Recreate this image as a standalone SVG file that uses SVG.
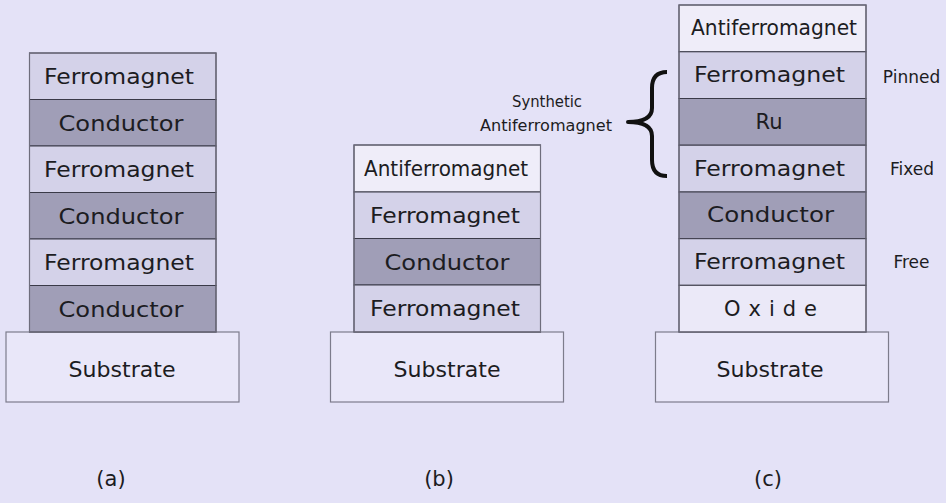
<svg xmlns="http://www.w3.org/2000/svg" width="946" height="503" viewBox="0 0 946 503">
  <style>
    .bg { fill: #e4e2f7; }
    .fm { fill: #d4d2e9; stroke: #3a3a48; stroke-width: 1; }
    .cd { fill: #a09eb7; stroke: #3a3a48; stroke-width: 1; }
    .af { fill: #efedf9; stroke: #3a3a48; stroke-width: 1; }
    .ox { fill: #ebe9f8; stroke: #3a3a48; stroke-width: 1; }
    .sub { fill: #e9e7f9; stroke: #7d7c8c; stroke-width: 1.2; }
    .edge { fill: none; stroke: #6e6d7c; stroke-width: 1.2; }
    text { font-family: "DejaVu Sans", "Liberation Sans", sans-serif; fill: #1c1c22; }
    .lbl { font-size: 21px; text-anchor: middle; }
    .side { font-size: 17px; text-anchor: middle; }
    .cap { font-size: 21px; text-anchor: middle; }
    .brace { fill: none; stroke: #111; stroke-width: 4; stroke-linecap: butt; stroke-linejoin: round; }
  </style>

  <rect class="bg" x="0" y="0" width="946" height="503"/>

  <!-- (a) multilayer stack -->
  <g id="stack-a">
    <rect class="sub" x="6" y="332" width="233" height="70"/>
    <text class="lbl" x="122" y="377" textLength="107" lengthAdjust="spacingAndGlyphs">Substrate</text>
    <rect class="fm" x="29.5" y="53" width="186.5" height="46.5"/>
    <rect class="cd" x="29.5" y="99.5" width="186.5" height="46.5"/>
    <rect class="fm" x="29.5" y="146" width="186.5" height="46.5"/>
    <rect class="cd" x="29.5" y="192.5" width="186.5" height="46.5"/>
    <rect class="fm" x="29.5" y="239" width="186.5" height="46.5"/>
    <rect class="cd" x="29.5" y="285.5" width="186.5" height="46.5"/>
    <rect class="edge" x="29.5" y="53" width="186.5" height="279"/>
    <text class="lbl" x="119" y="84" textLength="150" lengthAdjust="spacingAndGlyphs">Ferromagnet</text>
    <text class="lbl" x="121" y="131" textLength="125" lengthAdjust="spacingAndGlyphs">Conductor</text>
    <text class="lbl" x="119" y="177" textLength="150" lengthAdjust="spacingAndGlyphs">Ferromagnet</text>
    <text class="lbl" x="121" y="224" textLength="125" lengthAdjust="spacingAndGlyphs">Conductor</text>
    <text class="lbl" x="119" y="270" textLength="150" lengthAdjust="spacingAndGlyphs">Ferromagnet</text>
    <text class="lbl" x="121" y="317" textLength="125" lengthAdjust="spacingAndGlyphs">Conductor</text>
  </g>

  <!-- (b) spin valve stack -->
  <g id="stack-b">
    <rect class="sub" x="330.5" y="332" width="233" height="70"/>
    <text class="lbl" x="447" y="377" textLength="107" lengthAdjust="spacingAndGlyphs">Substrate</text>
    <rect class="af" x="354" y="145" width="186.5" height="47"/>
    <rect class="fm" x="354" y="192" width="186.5" height="46.5"/>
    <rect class="cd" x="354" y="238.5" width="186.5" height="46.5"/>
    <rect class="fm" x="354" y="285" width="186.5" height="47"/>
    <rect class="edge" x="354" y="145" width="186.5" height="187"/>
    <text class="lbl" x="446" y="176" textLength="164" lengthAdjust="spacingAndGlyphs">Antiferromagnet</text>
    <text class="lbl" x="445" y="223" textLength="150" lengthAdjust="spacingAndGlyphs">Ferromagnet</text>
    <text class="lbl" x="447" y="270" textLength="125" lengthAdjust="spacingAndGlyphs">Conductor</text>
    <text class="lbl" x="445" y="316" textLength="150" lengthAdjust="spacingAndGlyphs">Ferromagnet</text>
  </g>

  <!-- (c) tunnel junction stack with synthetic antiferromagnet -->
  <g id="stack-c">
    <rect class="sub" x="655.5" y="332" width="233" height="70"/>
    <text class="lbl" x="770" y="377" textLength="107" lengthAdjust="spacingAndGlyphs">Substrate</text>
    <rect class="af" x="679" y="5" width="187" height="46.8"/>
    <rect class="fm" x="679" y="51.8" width="187" height="46.7"/>
    <rect class="cd" x="679" y="98.5" width="187" height="46.7"/>
    <rect class="fm" x="679" y="145.2" width="187" height="46.8"/>
    <rect class="cd" x="679" y="192" width="187" height="46.7"/>
    <rect class="fm" x="679" y="238.7" width="187" height="46.6"/>
    <rect class="ox" x="679" y="285.3" width="187" height="46.7"/>
    <rect class="edge" x="679" y="5" width="187" height="327"/>
    <text class="lbl" x="774" y="35" textLength="166" lengthAdjust="spacingAndGlyphs">Antiferromagnet</text>
    <text class="lbl" x="769.5" y="82" textLength="151" lengthAdjust="spacingAndGlyphs">Ferromagnet</text>
    <text class="lbl" x="769" y="129">Ru</text>
    <text class="lbl" x="769.5" y="176" textLength="151" lengthAdjust="spacingAndGlyphs">Ferromagnet</text>
    <text class="lbl" x="770.5" y="222" textLength="127" lengthAdjust="spacingAndGlyphs">Conductor</text>
    <text class="lbl" x="769.5" y="269" textLength="151" lengthAdjust="spacingAndGlyphs">Ferromagnet</text>
    <text class="lbl" x="770.5" y="316" textLength="93" lengthAdjust="spacing">Oxide</text>
  </g>

  <!-- layer role annotations -->
  <g id="roles">
    <text class="side" x="911.5" y="83">Pinned</text>
    <text class="side" x="912" y="175">Fixed</text>
    <text class="side" x="911.5" y="268">Free</text>
  </g>

  <!-- synthetic antiferromagnet bracket -->
  <g id="saf-label">
    <text class="side" font-size="16" x="547" y="107" style="font-size:16px" textLength="70" lengthAdjust="spacingAndGlyphs">Synthetic</text>
    <text class="side" x="546" y="131" style="font-size:16px" textLength="132" lengthAdjust="spacingAndGlyphs">Antiferromagnet</text>
  </g>
  <g id="connectors">
    <path class="brace" d="M667,72 Q652,72 652,88 L652,108 Q652,122 628,122 Q652,122 652,136 L652,160 Q652,176 667,176"/>
  </g>

  <!-- sub-figure captions -->
  <g id="captions">
    <text class="cap" x="111" y="486">(a)</text>
    <text class="cap" x="439" y="486">(b)</text>
    <text class="cap" x="768" y="486">(c)</text>
  </g>
</svg>
